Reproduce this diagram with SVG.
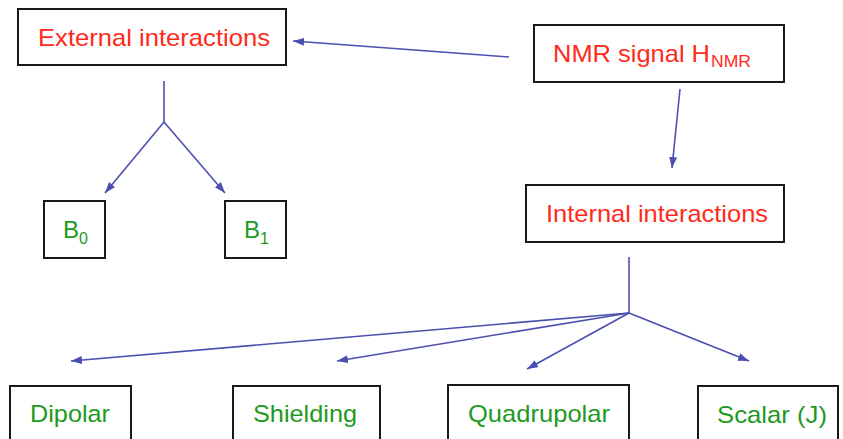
<svg xmlns="http://www.w3.org/2000/svg" width="843" height="439" viewBox="0 0 843 439">
<defs>
<style>
.box{fill:#fff;stroke:#1a1a1a;stroke-width:2}
.t{font-family:"Liberation Sans",Arial,sans-serif;font-size:24px}
.s{font-family:"Liberation Sans",Arial,sans-serif;font-size:16px}
.red{fill:#ff2a1a}
.grn{fill:#1e9a1e}
.ln{stroke:#4b50b0;stroke-width:1.6;fill:none}
</style>
<marker id="ah" markerUnits="userSpaceOnUse" markerWidth="12" markerHeight="10" refX="11" refY="4" orient="auto">
<path d="M0,0 L11,4 L0,8 Z" fill="#4b50b0"/>
</marker>
</defs>
<rect width="843" height="439" fill="#fff"/>
<g id="connectors">
<line class="ln" x1="509" y1="57" x2="293" y2="41" marker-end="url(#ah)"/>
<line class="ln" x1="680" y1="89" x2="672" y2="168" marker-end="url(#ah)"/>
<polyline class="ln" points="164,81 164,122"/>
<line class="ln" x1="164" y1="122" x2="105" y2="193" marker-end="url(#ah)"/>
<line class="ln" x1="164" y1="122" x2="225" y2="193" marker-end="url(#ah)"/>
<polyline class="ln" points="629,257 629,313"/>
<line class="ln" x1="629" y1="313" x2="71" y2="361" marker-end="url(#ah)"/>
<line class="ln" x1="629" y1="313" x2="337" y2="361" marker-end="url(#ah)"/>
<line class="ln" x1="629" y1="313" x2="527" y2="369" marker-end="url(#ah)"/>
<line class="ln" x1="629" y1="313" x2="749" y2="361" marker-end="url(#ah)"/>
</g>
<g id="external">
<rect class="box" x="18" y="9" width="268" height="56"/>
<text class="t red" x="38" y="46" textLength="232" lengthAdjust="spacingAndGlyphs">External interactions</text>
</g>
<g id="nmr">
<rect class="box" x="534" y="25" width="250" height="57"/>
<text class="t red" x="553" y="62" textLength="157" lengthAdjust="spacingAndGlyphs">NMR signal H</text>
<text class="s red" x="711" y="67" textLength="40" lengthAdjust="spacingAndGlyphs">NMR</text>
</g>
<g id="internal">
<rect class="box" x="526" y="185" width="258" height="57"/>
<text class="t red" x="546" y="222" textLength="222" lengthAdjust="spacingAndGlyphs">Internal interactions</text>
</g>
<g id="b0">
<rect class="box" x="44" y="201" width="61" height="57"/>
<text class="t grn" x="63" y="238">B<tspan class="s" y="244">0</tspan></text>
</g>
<g id="b1">
<rect class="box" x="225" y="201" width="61" height="57"/>
<text class="t grn" x="244" y="238">B<tspan class="s" y="244">1</tspan></text>
</g>
<g id="dipolar">
<rect class="box" x="10" y="386" width="121" height="60"/>
<text class="t grn" x="30" y="422" textLength="80" lengthAdjust="spacingAndGlyphs">Dipolar</text>
</g>
<g id="shielding">
<rect class="box" x="233" y="386" width="147" height="60"/>
<text class="t grn" x="253" y="422" textLength="104" lengthAdjust="spacingAndGlyphs">Shielding</text>
</g>
<g id="quadrupolar">
<rect class="box" x="448" y="385" width="181" height="60"/>
<text class="t grn" x="468" y="422" textLength="142" lengthAdjust="spacingAndGlyphs">Quadrupolar</text>
</g>
<g id="scalar">
<rect class="box" x="698" y="386" width="140" height="60"/>
<text class="t grn" x="717" y="423" textLength="110" lengthAdjust="spacingAndGlyphs">Scalar (J)</text>
</g>
</svg>
